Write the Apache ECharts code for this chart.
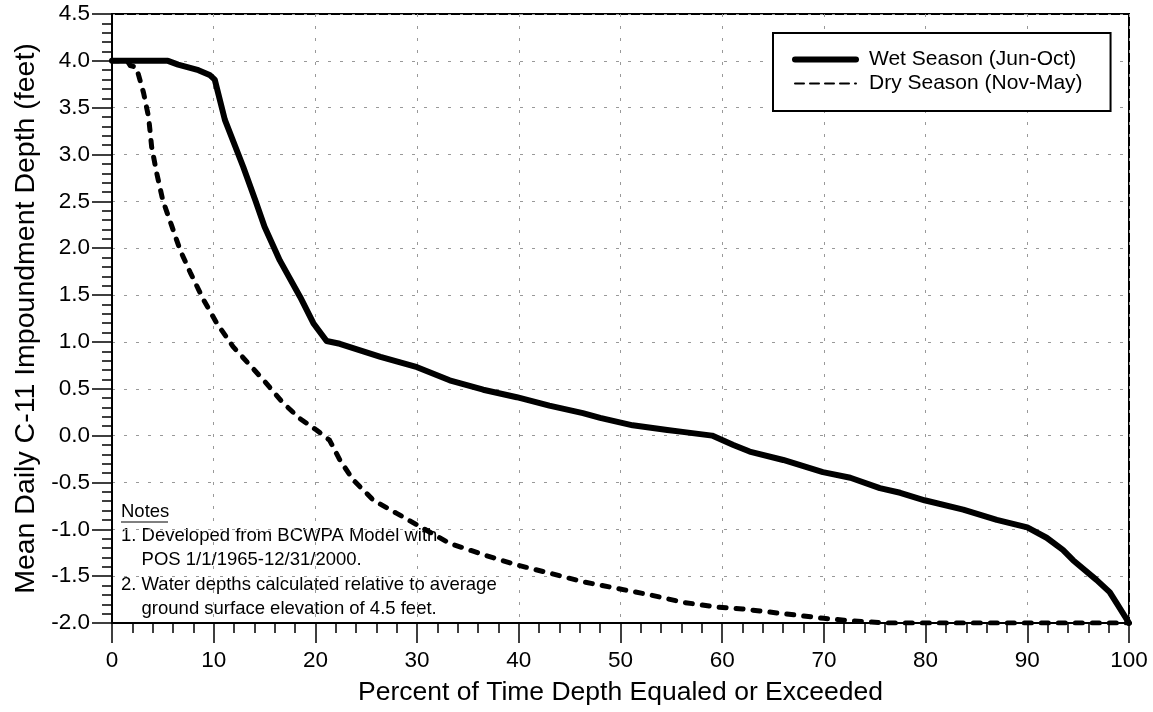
<!DOCTYPE html>
<html>
<head>
<meta charset="utf-8">
<script src="https://cdn.jsdelivr.net/npm/echarts@6/dist/echarts.min.js"></script>
<style>
html,body{margin:0;padding:0;background:#fff;}
#c{width:1153px;height:712px;}
</style>
</head>
<body>
<div id="c"></div>
<script>
// Wet season (Jun-Oct) exceedance curve
var wetPct   = [0, 5.5, 6.5, 7.5, 8.5, 9.6, 10.1, 11.1, 12.9, 14.1, 15.0, 16.5, 18.5, 19.8, 21.1, 22.4, 26.4, 30.0, 33.2, 36.5, 39.8, 43.0, 46.3, 48.0, 51.2, 54.6, 56.1, 59.0, 61.1, 62.7, 66.0, 69.9, 72.6, 75.5, 77.5, 79.9, 83.7, 87.0, 90.0, 91.9, 93.5, 94.5, 96.8, 98.1, 98.8, 100];
var wetDepth = [4.0, 4.0, 3.96, 3.93, 3.90, 3.85, 3.80, 3.37, 2.87, 2.51, 2.23, 1.87, 1.48, 1.20, 1.01, 0.98, 0.84, 0.73, 0.59, 0.49, 0.41, 0.32, 0.24, 0.19, 0.11, 0.06, 0.04, 0.0, -0.10, -0.17, -0.26, -0.39, -0.45, -0.56, -0.61, -0.69, -0.79, -0.90, -0.98, -1.09, -1.22, -1.33, -1.54, -1.67, -1.79, -2.0];
// Dry season (Nov-May) exceedance curve
var dryPct   = [0, 1.5, 1.8, 2.4, 3.1, 3.6, 3.9, 4.4, 5.0, 5.9, 6.7, 7.7, 9.0, 10.3, 11.9, 13.5, 15.0, 16.8, 18.5, 20.1, 21.4, 22.4, 23.7, 25.7, 28.0, 30.6, 33.2, 36.5, 39.8, 43.1, 46.3, 49.6, 52.9, 56.2, 59.5, 62.0, 66.0, 70.0, 72.0, 76.0, 100];
var dryDepth = [4.0, 4.0, 3.95, 3.93, 3.66, 3.40, 3.08, 2.80, 2.51, 2.23, 1.98, 1.74, 1.45, 1.20, 0.95, 0.76, 0.58, 0.35, 0.18, 0.06, -0.05, -0.26, -0.47, -0.69, -0.83, -0.99, -1.15, -1.27, -1.38, -1.47, -1.56, -1.63, -1.70, -1.78, -1.83, -1.85, -1.90, -1.95, -1.97, -2.0, -2.0];

var seriesNames = ['Wet Season (Jun-Oct)', 'Dry Season (Nov-May)'];
var xTitle = 'Percent of Time Depth Equaled or Exceeded';
var yTitle = 'Mean Daily C-11 Impoundment Depth (feet)';
var notesLines = ['1. Developed from BCWPA Model with', '    POS 1/1/1965-12/31/2000.', '2. Water depths calculated relative to average', '    ground surface elevation of 4.5 feet.'];

function zip(a, b){ return a.map(function(v,i){ return [v, b[i]]; }); }

var FONT = 'Liberation Sans, Arial, sans-serif';
var chart = echarts.init(document.getElementById('c'), null, {renderer:'canvas'});
var gridLine = {show:true, lineStyle:{color:'#999', width:1, type:[3,9]}};
var noteFont = '18.5px ' + FONT;
chart.setOption({
  animation:false,
  backgroundColor:'#fff',
  color:['#000','#000'],
  grid:{left:112, right:24, top:14, bottom:89, show:true, borderColor:'#000', borderWidth:2, backgroundColor:'transparent'},
  xAxis:{
    type:'value', min:0, max:100, interval:10,
    name:xTitle, nameLocation:'middle', nameGap:56,
    nameTextStyle:{fontFamily:FONT, fontSize:26.5, color:'#000'},
    axisLine:{show:true, onZero:false, lineStyle:{color:'#000', width:2}},
    axisTick:{show:true, inside:false, length:20, lineStyle:{color:'#000', width:1.5}},
    minorTick:{show:true, splitNumber:5, length:10, lineStyle:{color:'#000', width:1.5}},
    axisLabel:{fontFamily:FONT, fontSize:22.5, color:'#000', margin:26},
    splitLine:gridLine
  },
  yAxis:{
    type:'value', min:-2, max:4.5, interval:0.5,
    name:yTitle, nameLocation:'middle', nameGap:70,
    nameTextStyle:{fontFamily:FONT, fontSize:28.5, color:'#000'},
    axisLine:{show:true, onZero:false, lineStyle:{color:'#000', width:2}},
    axisTick:{show:true, inside:false, length:20, lineStyle:{color:'#000', width:1.5}},
    minorTick:{show:true, splitNumber:5, length:10, lineStyle:{color:'#000', width:1.5}},
    axisLabel:{fontFamily:FONT, fontSize:22.5, color:'#000', margin:22, formatter:function(v){return v.toFixed(1);}},
    splitLine:gridLine
  },
  legend:{
    orient:'vertical', left:773, top:33,
    padding:[16,28,17,19], itemGap:3, itemWidth:61, itemHeight:14,
    borderColor:'#000', borderWidth:2, backgroundColor:'#fff',
    textStyle:{fontFamily:FONT, fontSize:21, color:'#000', padding:[0,0,0,8]},
    data:[
      {name:seriesNames[0], itemStyle:{opacity:0}, lineStyle:{color:'#000', width:6, type:'solid', cap:'round'}},
      {name:seriesNames[1], itemStyle:{opacity:0}, lineStyle:{color:'#000', width:2, type:[9,6]}}
    ]
  },
  series:[
    {name:seriesNames[1], type:'line', data:zip(dryPct, dryDepth), symbol:'none', z:2,
     itemStyle:{color:'#000'},
     lineStyle:{color:'#000', width:5, type:[7,10], cap:'round', join:'round'}},
    {name:seriesNames[0], type:'line', data:zip(wetPct, wetDepth), symbol:'none', z:3,
     itemStyle:{color:'#000'},
     lineStyle:{color:'#000', width:6, type:'solid', cap:'round', join:'round'}}
  ],
  graphic:[
    {type:'text', left:121, top:502, style:{text:'Notes', font:noteFont, fill:'#000'}},
    {type:'line', shape:{x1:121, y1:522, x2:168, y2:522}, style:{stroke:'#000', lineWidth:1}},
    {type:'text', left:121, top:526, style:{text:notesLines[0], font:noteFont, fill:'#000'}},
    {type:'text', left:121, top:550, style:{text:notesLines[1], font:noteFont, fill:'#000'}},
    {type:'text', left:121, top:575, style:{text:notesLines[2], font:noteFont, fill:'#000'}},
    {type:'text', left:121, top:599, style:{text:notesLines[3], font:noteFont, fill:'#000'}}
  ]
});
</script>
</body>
</html>
